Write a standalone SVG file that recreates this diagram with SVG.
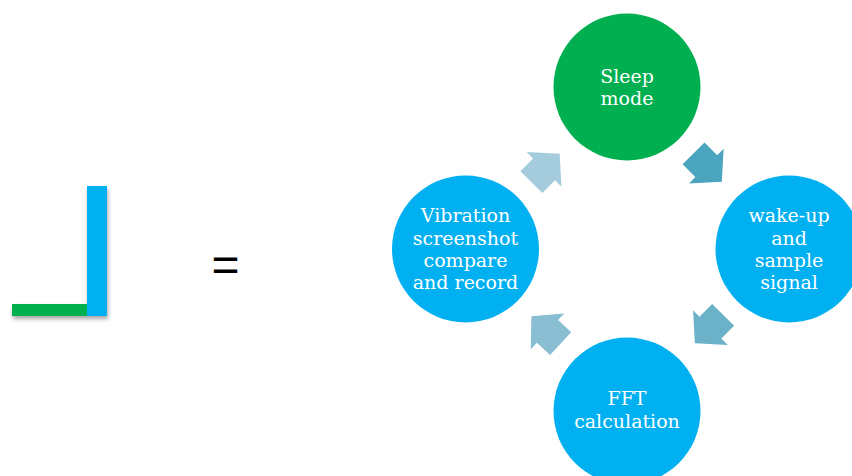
<svg xmlns="http://www.w3.org/2000/svg" width="852" height="476" viewBox="0 0 852 476">
<style>
.lbl{font-family:"DejaVu Serif","Liberation Serif",serif;font-size:19px;fill:#ffffff;text-anchor:middle}
.eq{font-family:"Liberation Sans",Arial,sans-serif;font-size:48px;fill:#000000;text-anchor:middle}
</style>
<defs>
<filter id="sh" x="-30%" y="-30%" width="160%" height="160%">
<feDropShadow dx="1" dy="3" stdDeviation="2" flood-color="#000" flood-opacity="0.35"/>
</filter>
<polygon id="arr" points="-20,-15.5 -2,-15.5 -2,-24.5 20,0 -2,24.5 -2,15.5 -20,15.5"/>
</defs>
<rect width="852" height="476" fill="#ffffff"/>
<g id="symbol" filter="url(#sh)">
<rect x="12" y="304" width="80" height="12" fill="#00B050"/>
<rect x="87" y="186" width="20" height="130" fill="#00B0F0"/>
</g>
<text class="eq" x="225.5" y="281">=</text>
<g id="connectors">
<use href="#arr" transform="translate(707.7,167.5) rotate(45)" fill="#4BA5BF"/>
<use href="#arr" transform="translate(709,329) rotate(135)" fill="#6BB2C8"/>
<use href="#arr" transform="translate(546,330) rotate(223)" fill="#88BDD2"/>
<use href="#arr" transform="translate(545.5,168) rotate(-45)" fill="#A5CCDD"/>
</g>
<g id="sleep">
<circle cx="627" cy="87" r="73.5" fill="#00B050"/>
<text class="lbl" x="627" y="83">Sleep</text>
<text class="lbl" x="627" y="105">mode</text>
</g>
<g id="wake">
<circle cx="789" cy="249" r="73.5" fill="#00B0F0"/>
<text class="lbl" x="789" y="222">wake-up</text>
<text class="lbl" x="789" y="244.5">and</text>
<text class="lbl" x="789" y="267">sample</text>
<text class="lbl" x="789" y="289">signal</text>
</g>
<g id="fft">
<circle cx="627" cy="411" r="73.5" fill="#00B0F0"/>
<text class="lbl" x="627" y="405">FFT</text>
<text class="lbl" x="627" y="428">calculation</text>
</g>
<g id="vibration">
<circle cx="465.5" cy="249" r="73.5" fill="#00B0F0"/>
<text class="lbl" x="465.5" y="222">Vibration</text>
<text class="lbl" x="465.5" y="244.5">screenshot</text>
<text class="lbl" x="465.5" y="267">compare</text>
<text class="lbl" x="465.5" y="289">and record</text>
</g>
</svg>
